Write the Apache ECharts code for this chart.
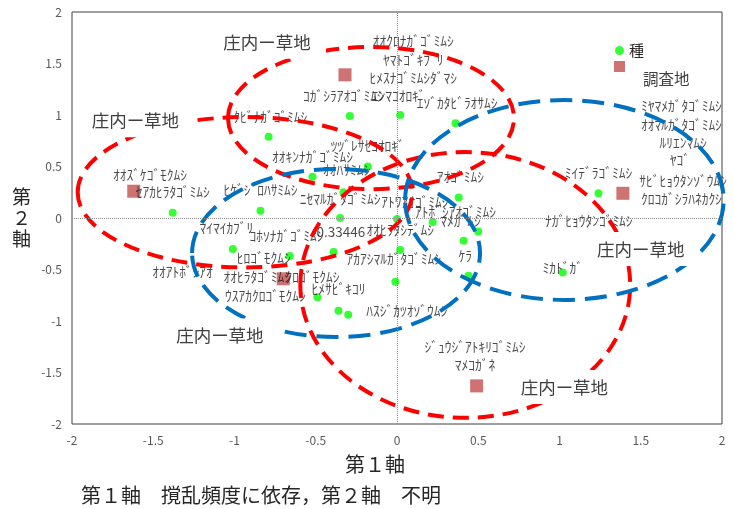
<!DOCTYPE html>
<html>
<head>
<meta charset="utf-8">
<script src="https://cdn.jsdelivr.net/npm/echarts@6/dist/echarts.min.js"></script>
<style>
html, body { margin: 0; padding: 0; background: #fff; }
#main { width: 735px; height: 509px; }
</style>
</head>
<body>
<div id="main"></div>
<script>
// species scores (green dots)
var speciesX = [-0.79, -0.29, 0.02, 0.36, -1.38, -0.84, -1.01, -0.66, -0.52, -0.18, -0.33, -0.35, 0.00,
    0.22, 0.38, 0.50, 0.41, 0.02, -0.39, 0.44, -0.01, -0.49, -0.36, -0.30, 1.24, 1.02];
var speciesY = [0.79, 0.99, 1.00, 0.92, 0.05, 0.07, -0.30, -0.37, 0.40, 0.50, 0.25, 0.00, -0.01,
    -0.04, 0.20, -0.13, -0.22, -0.31, -0.33, -0.56, -0.62, -0.77, -0.90, -0.94, 0.24, -0.53];
// site scores (red squares)
var siteX = [-0.32, -1.62, -0.70, 1.39, 0.49];
var siteY = [1.39, 0.26, -0.59, 0.24, -1.63];
// species names as placed on the chart
var labelNames = ['ｵｵｸﾛﾅｶﾞｺﾞﾐﾑｼ', 'ﾔﾏﾄｺﾞｷﾌﾞﾘ', 'ﾋﾒｽﾅｺﾞﾐﾑｼﾀﾞﾏｼ', 'ｺｶﾞｼﾗｱｵｺﾞﾐﾑｼ', 'ｴﾝﾏｺｵﾛｷﾞ',
    'ｴｿﾞｶﾀﾋﾞﾗｵｻﾑｼ', 'ﾂﾂﾞﾚｻｾｺｵﾛｷﾞ', 'ｸﾋﾞﾅｶﾞｺﾞﾐﾑｼ', 'ｵｵｷﾝﾅｶﾞｺﾞﾐﾑｼ', 'ｵｵﾊｻﾐﾑｼ',
    'ﾋｹﾞｼﾞﾛﾊｻﾐﾑｼ', 'ﾆｾﾏﾙｶﾞﾀｺﾞﾐﾑｼ', 'ﾏｲﾏｲｶﾌﾞﾘ', 'ｺﾎｿﾅｶﾞｺﾞﾐﾑｼ', '-0.33446',
    'ｵｵﾋﾗﾀｼﾃﾞﾑｼ', 'ｵｵｽﾞｹｺﾞﾓｸﾑｼ', 'ｾｱｶﾋﾗﾀｺﾞﾐﾑｼ', 'ﾋﾛｺﾞﾓｸﾑｼ', 'ｵｵｱﾄﾎﾞｼｱｵ',
    'ｵｵﾋﾗﾀｺﾞﾐﾑｼ', 'ｸﾛｺﾞﾓｸﾑｼ', 'ｳｽｱｶｸﾛｺﾞﾓｸﾑｼ', 'ﾋﾒｻﾋﾞｷｺﾘ', 'ｱｶｱｼﾏﾙｶﾞﾀｺﾞﾐﾑｼ',
    'ﾊｽｼﾞｶﾂｵｿﾞｳﾑｼ', 'ｱｵｺﾞﾐﾑｼ', 'ｱﾄﾜｱｵｺﾞﾐﾑｼ', 'ｱﾄﾎﾞｼｱｵｺﾞﾐﾑｼ', 'ﾏﾒｶﾞﾑｼ',
    'ｹﾗ', 'ﾐｲﾃﾞﾗｺﾞﾐﾑｼ', 'ﾅｶﾞﾋｮｳﾀﾝｺﾞﾐﾑｼ', 'ﾐｶﾄﾞｶﾞ', 'ﾔｺﾞ',
    'ｻﾋﾞﾋｮｳﾀﾝｿﾞｳﾑｼ', 'ｸﾛｺｶﾞｼﾗﾊﾈｶｸｼ', 'ﾐﾔﾏﾒｶﾞﾀｺﾞﾐﾑｼ', 'ｵｵﾏﾙｶﾞﾀｺﾞﾐﾑｼ', 'ﾙﾘｴﾝﾏﾑｼ',
    'ｼﾞｭｳｼﾞｱﾄｷﾘｺﾞﾐﾑｼ', 'ﾏﾒｺｶﾞﾈ'];
var labelX = [0.10, 0.10, 0.10, -0.33, 0.01, 0.37, -0.18, -0.78, -0.52, -0.31,
    -0.84, -0.35, -1.05, -0.68, -0.36, 0.02, -1.52, -1.38, -0.82, -1.32,
    -0.86, -0.52, -0.81, -0.36, -0.02, 0.06, 0.39, 0.11, 0.36, 0.39,
    0.42, 1.24, 1.18, 1.02, 1.74, 1.76, 1.75, 1.75, 1.75, 1.76,
    0.48, 0.48];
var labelY = [1.72, 1.54, 1.36, 1.19, 1.19, 1.12, 0.70, 0.98, 0.59, 0.47,
    0.27, 0.19, -0.10, -0.17, -0.13, -0.12, 0.42, 0.25, -0.39, -0.52,
    -0.57, -0.57, -0.76, -0.69, -0.40, -0.90, 0.40, 0.16, 0.06, -0.03,
    -0.37, 0.44, -0.03, -0.48, 0.56, 0.36, 0.19, 1.09, 0.90, 0.73,
    -1.25, -1.43];
// group names
var groupNames = ['庄内ー草地', '庄内ー草地', '庄内ー草地', '庄内ー草地', '庄内ー草地'];
var groupX = [-0.80, -1.61, -1.09, 1.50, 1.03];
var groupY = [1.71, 0.95, -1.14, -0.30, -1.64];
// group outlines: centre x, centre y, half width, half height (axis units)
var redEllipses = [[-0.935, 0.25, 1.03, 0.73], [-0.16, 0.97, 0.88, 0.69], [0.42, -0.65, 1.015, 1.29]];
var blueEllipses = [[-0.375, -0.34, 0.886, 0.816], [1.03, 0.175, 0.98, 0.97]];

var font = "'Noto Sans CJK JP', sans-serif";

function pairs(xs, ys) {
    var out = [];
    for (var i = 0; i < xs.length; i++) {
        out.push([xs[i], ys[i]]);
    }
    return out;
}
function named(names, xs, ys) {
    var out = [];
    for (var i = 0; i < names.length; i++) {
        out.push({ name: names[i], value: [xs[i], ys[i]] });
    }
    return out;
}
function ellipseItem(color, dash) {
    return function (params, api) {
        var c = api.coord([api.value(0), api.value(1)]);
        var s = api.size([api.value(2), api.value(3)]);
        return {
            type: 'ellipse',
            shape: { cx: c[0], cy: c[1], rx: s[0], ry: s[1] },
            style: { fill: 'none', stroke: color, lineWidth: 4, lineDash: dash }
        };
    };
}

var chart = echarts.init(document.getElementById('main'));
var option = {
    animation: false,
    textStyle: { fontFamily: font },
    grid: {
        left: 72, right: 13, top: 12, bottom: 85,
        show: true, borderColor: '#404040', borderWidth: 1
    },
    title: [
        {
            text: '第１軸　撹乱頻度に依存，第２軸　不明',
            left: 76, top: 480,
            textStyle: { fontSize: 20, fontWeight: 'normal', color: '#262626', fontFamily: font }
        },
        {
            text: '調査地',
            left: 638, top: 66,
            textStyle: { fontSize: 15.5, fontWeight: 'normal', color: '#404040', fontFamily: font }
        }
    ],
    legend: [
        {
            data: ['種'], left: 610, top: 38, icon: 'circle',
            itemWidth: 9, itemHeight: 9, itemGap: 4,
            textStyle: { fontSize: 15, color: '#262626', fontFamily: font }
        },
        {
            data: ['調査地'], left: 609, top: 56, icon: 'rect',
            itemWidth: 11, itemHeight: 11,
            formatter: function () { return ''; }
        }
    ],
    xAxis: {
        type: 'value', min: -2, max: 2, interval: 0.5,
        axisLine: { show: false }, axisTick: { show: false }, splitLine: { show: false },
        axisLabel: { color: '#595959', fontSize: 12, margin: 10, fontFamily: font },
        name: '第１軸', nameLocation: 'middle', nameGap: 30,
        nameTextStyle: { fontSize: 20, color: '#262626', padding: [0, 44, 0, 0], fontFamily: font }
    },
    yAxis: {
        type: 'value', min: -2, max: 2, interval: 0.5,
        axisLine: { show: false }, axisTick: { show: false }, splitLine: { show: false },
        axisLabel: { color: '#595959', fontSize: 12, margin: 10, fontFamily: font },
        name: '第\n２\n軸', nameLocation: 'middle', nameGap: 41, nameRotate: 0,
        nameTextStyle: { fontSize: 19, lineHeight: 21, color: '#262626', padding: [0, 0, 10, 0], fontFamily: font }
    },
    series: [
        {
            type: 'line', data: [], z: 1, silent: true,
            markLine: {
                silent: true, symbol: 'none', label: { show: false },
                lineStyle: { color: '#8c8c8c', type: 'dotted', width: 1 },
                data: [{ xAxis: 0 }, { yAxis: 0 }]
            }
        },
        {
            name: '種', type: 'scatter', symbol: 'circle', symbolSize: 8, z: 2,
            itemStyle: { color: '#00ff00' },
            data: pairs(speciesX, speciesY)
        },
        {
            name: '調査地', type: 'scatter', symbol: 'rect', symbolSize: 13, z: 2,
            itemStyle: { color: '#c0504d' },
            data: pairs(siteX, siteY)
        },
        {
            type: 'scatter', symbolSize: 0, z: 3, silent: true,
            itemStyle: { color: 'transparent' },
            label: { show: true, position: 'inside', formatter: '{b}', fontSize: 13.5, color: '#1a1a1a', fontFamily: font },
            data: named(labelNames, labelX, labelY)
        },
        {
            type: 'custom', z: 4, silent: true,
            renderItem: ellipseItem('#ff0000', [16, 9]),
            encode: { x: 0, y: 1 },
            data: redEllipses
        },
        {
            type: 'custom', z: 4, silent: true,
            renderItem: ellipseItem('#0070c0', [22, 10]),
            encode: { x: 0, y: 1 },
            data: blueEllipses
        },
        {
            // text boxes with white fill, covering the outlines beneath
            type: 'scatter', symbol: 'rect', symbolSize: [118, 34], z: 5, silent: true,
            itemStyle: { color: '#ffffff', opacity: 1 },
            label: {
                show: true, position: 'inside', formatter: '{b}', fontSize: 17.5, color: '#404040',
                fontFamily: font
            },
            data: named(groupNames, groupX, groupY)
        }
    ]
};
chart.setOption(option);
</script>
</body>
</html>
